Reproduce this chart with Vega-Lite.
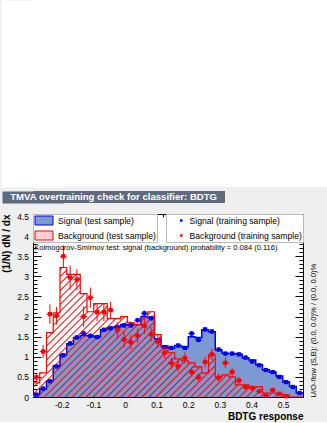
{
"$schema": "https://vega.github.io/schema/vega-lite/v6.json",
"background": "#efefef",
"padding": {"left": 0, "top": 0, "right": 0, "bottom": 0},
"spacing": 8,
"resolve": {"legend": {"fill": "independent", "color": "independent"}},
"config": {
  "font": "Liberation Sans",
  "axis": {"domain": false, "grid": false, "ticks": true, "tickColor": "black", "tickWidth": 1, "labelFont": "Liberation Sans", "labelFontSize": 8.5, "labelColor": "black", "titleFont": "Liberation Sans", "titleFontSize": 10, "titleFontWeight": "bold", "titleColor": "black", "zindex": 1}
},
"vconcat": [
  {"spacing": 4, "vconcat": [
    {"width": 294, "height": 187, "view": {"fill": "white", "stroke": null},
     "data": {"values": [{"v": "a"}]},
     "mark": {"type": "point", "opacity": 0},
     "encoding": {"y": {"field": "v", "type": "nominal", "axis": {"orient": "left", "labels": false, "ticks": false, "title": null, "domain": true, "domainColor": "white", "domainWidth": 64, "zindex": 0}}}},
    {"width": 192, "height": 12, "view": {"fill": "#5d6b7d", "stroke": null},
     "data": {"values": [{"t": "TMVA overtraining check for classifier: BDTG"}]},
     "mark": {"type": "text", "color": "white", "font": "Liberation Sans", "fontWeight": "bold", "fontSize": 9.6, "baseline": "middle"},
     "encoding": {"text": {"field": "t"},
                  "x": {"datum": 0.42, "type": "quantitative", "scale": {"domain": [0, 1], "nice": false}, "axis": null},
                  "y": {"field": "t", "type": "nominal", "axis": {"orient": "left", "labels": false, "ticks": false, "title": null, "domain": true, "domainColor": "#5d6b7d", "domainWidth": 62, "zindex": 0}}}}
  ]},
  {"width": 270, "height": 183, "view": {"fill": "white", "stroke": "black", "strokeWidth": 1},
   "data": {"values": [
{"lo":-0.2910,"hi":-0.2697,"c":-0.2803,"s":0.06,"b":0.35,"st":0.06,"se":0.02,"bt":0.49,"be":0.1},
{"lo":-0.2697,"hi":-0.2483,"c":-0.2590,"s":0.2,"b":0.6,"st":0.21,"se":0.03,"bt":1.13,"be":0.16},
{"lo":-0.2483,"hi":-0.2270,"c":-0.2376,"s":0.4,"b":1.6,"st":0.39,"se":0.04,"bt":2.06,"be":0.24},
{"lo":-0.2270,"hi":-0.2056,"c":-0.2163,"s":0.78,"b":2.09,"st":0.76,"se":0.05,"bt":2.02,"be":0.22},
{"lo":-0.2056,"hi":-0.1843,"c":-0.1949,"s":1.05,"b":3.22,"st":1.04,"se":0.05,"bt":3.5,"be":0.27},
{"lo":-0.1843,"hi":-0.1629,"c":-0.1736,"s":1.32,"b":3.05,"st":1.33,"se":0.06,"bt":2.97,"be":0.3},
{"lo":-0.1629,"hi":-0.1416,"c":-0.1522,"s":1.48,"b":3.05,"st":1.48,"se":0.06,"bt":2.92,"be":0.26},
{"lo":-0.1416,"hi":-0.1202,"c":-0.1309,"s":1.53,"b":2.57,"st":1.58,"se":0.06,"bt":2.0,"be":0.25},
{"lo":-0.1202,"hi":-0.0989,"c":-0.1095,"s":1.52,"b":2.12,"st":1.52,"se":0.06,"bt":2.47,"be":0.25},
{"lo":-0.0989,"hi":-0.0775,"c":-0.0882,"s":1.5,"b":2.32,"st":1.49,"se":0.06,"bt":2.11,"be":0.22},
{"lo":-0.0775,"hi":-0.0562,"c":-0.0668,"s":1.67,"b":2.32,"st":1.67,"se":0.06,"bt":2.11,"be":0.22},
{"lo":-0.0562,"hi":-0.0348,"c":-0.0455,"s":1.72,"b":1.95,"st":1.71,"se":0.06,"bt":2.16,"be":0.2},
{"lo":-0.0348,"hi":-0.0135,"c":-0.0241,"s":1.75,"b":1.95,"st":1.74,"se":0.06,"bt":1.66,"be":0.2},
{"lo":-0.0135,"hi":0.0079,"c":-0.0028,"s":1.8,"b":2.0,"st":1.78,"se":0.06,"bt":1.43,"be":0.2},
{"lo":0.0079,"hi":0.0293,"c":0.0186,"s":1.8,"b":1.85,"st":1.78,"se":0.06,"bt":1.36,"be":0.18},
{"lo":0.0293,"hi":0.0506,"c":0.0399,"s":1.8,"b":1.8,"st":1.91,"se":0.06,"bt":1.52,"be":0.18},
{"lo":0.0506,"hi":0.0720,"c":0.0613,"s":2.0,"b":1.97,"st":2.08,"se":0.07,"bt":1.77,"be":0.2},
{"lo":0.0720,"hi":0.0933,"c":0.0826,"s":1.97,"b":2.12,"st":1.96,"se":0.06,"bt":1.56,"be":0.18},
{"lo":0.0933,"hi":0.1147,"c":0.1040,"s":1.45,"b":1.55,"st":1.39,"se":0.06,"bt":1.39,"be":0.18},
{"lo":0.1147,"hi":0.1360,"c":0.1253,"s":1.27,"b":1.25,"st":1.24,"se":0.05,"bt":1.1,"be":0.15},
{"lo":0.1360,"hi":0.1574,"c":0.1467,"s":1.22,"b":1.1,"st":1.22,"se":0.05,"bt":0.85,"be":0.13},
{"lo":0.1574,"hi":0.1787,"c":0.1680,"s":1.28,"b":0.95,"st":1.28,"se":0.05,"bt":0.76,"be":0.13},
{"lo":0.1787,"hi":0.2001,"c":0.1894,"s":1.25,"b":0.9,"st":1.22,"se":0.05,"bt":0.97,"be":0.14},
{"lo":0.2001,"hi":0.2214,"c":0.2107,"s":1.5,"b":0.85,"st":1.58,"se":0.06,"bt":0.62,"be":0.11},
{"lo":0.2214,"hi":0.2428,"c":0.2321,"s":1.48,"b":0.75,"st":1.42,"se":0.06,"bt":0.49,"be":0.1},
{"lo":0.2428,"hi":0.2641,"c":0.2534,"s":1.67,"b":0.6,"st":1.68,"se":0.06,"bt":0.87,"be":0.13},
{"lo":0.2641,"hi":0.2855,"c":0.2748,"s":1.62,"b":1.05,"st":1.63,"se":0.06,"bt":1.06,"be":0.14},
{"lo":0.2855,"hi":0.3068,"c":0.2961,"s":1.17,"b":0.5,"st":1.18,"se":0.05,"bt":0.48,"be":0.1},
{"lo":0.3068,"hi":0.3282,"c":0.3175,"s":1.09,"b":0.55,"st":1.08,"se":0.05,"bt":0.85,"be":0.13},
{"lo":0.3282,"hi":0.3495,"c":0.3388,"s":1.08,"b":0.5,"st":1.08,"se":0.05,"bt":0.62,"be":0.1},
{"lo":0.3495,"hi":0.3709,"c":0.3602,"s":1.06,"b":0.3,"st":1.06,"se":0.05,"bt":0.41,"be":0.09},
{"lo":0.3709,"hi":0.3922,"c":0.3815,"s":0.97,"b":0.3,"st":0.98,"se":0.05,"bt":0.25,"be":0.07},
{"lo":0.3922,"hi":0.4136,"c":0.4029,"s":0.92,"b":0.25,"st":0.88,"se":0.05,"bt":0.22,"be":0.07},
{"lo":0.4136,"hi":0.4349,"c":0.4242,"s":0.8,"b":0.25,"st":0.79,"se":0.04,"bt":0.14,"be":0.05},
{"lo":0.4349,"hi":0.4563,"c":0.4456,"s":0.68,"b":0.1,"st":0.67,"se":0.04,"bt":0.04,"be":0.03},
{"lo":0.4563,"hi":0.4776,"c":0.4669,"s":0.62,"b":0.1,"st":0.62,"se":0.04,"bt":0.17,"be":0.06},
{"lo":0.4776,"hi":0.4990,"c":0.4883,"s":0.52,"b":0.08,"st":0.5,"se":0.04,"bt":0.08,"be":0.04},
{"lo":0.4990,"hi":0.5203,"c":0.5096,"s":0.37,"b":0.05,"st":0.37,"se":0.03,"bt":0.02,"be":0.02},
{"lo":0.5203,"hi":0.5417,"c":0.5310,"s":0.26,"b":0.0,"st":0.25,"se":0.03,"bt":null,"be":null},
{"lo":0.5417,"hi":0.5630,"c":0.5523,"s":0.1,"b":0.0,"st":0.1,"se":0.02,"bt":null,"be":null}
   ]},
   "resolve": {"axis": {"x": "independent", "y": "independent"}},
   "layer": [
    {"transform": [{"fold": ["lo", "hi"], "as": ["ek", "edge"]}],
     "mark": {"type": "area"},
     "encoding": {
       "x": {"field": "edge", "type": "quantitative", "scale": {"domain": [-0.291, 0.563], "nice": false, "zero": false},
             "axis": {"orient": "bottom", "values": [-0.2,-0.1,0,0.1,0.2,0.3,0.4,0.5], "labelExpr": "toString(datum.value)", "tickSize": -5.5, "labelPadding": 8.5, "labelFlush": false, "domain": true, "domainColor": "black", "title": "BDTG response", "titleAnchor": "end", "titlePadding": 3}},
       "y": {"field": "s", "type": "quantitative", "stack": null, "scale": {"domain": [0, 4.55], "nice": false, "zero": false},
             "axis": {"orient": "left", "values": [0,0.5,1,1.5,2,2.5,3,3.5,4,4.5], "labelExpr": "toString(datum.value)", "tickSize": -8, "labelPadding": 12.5, "domain": true, "domainColor": "black", "title": "(1/N) dN / dx", "titleAnchor": "end", "titlePadding": 5.5}},
       "fill": {"datum": "Signal (test sample)", "scale": {"domain": ["Signal (test sample)", "Background (test sample)"], "range": ["#7d99d1", "#ffd0d0"]},
                "legend": {"orient": "top-left", "offset": 0, "title": null, "padding": 1, "fillColor": "white", "strokeColor": "#bbbbbb", "symbolType": "M-2,-1H2V1H-2Z", "symbolSize": 81, "symbolStrokeWidth": 1, "symbolOffset": 5, "labelOffset": 9, "clipHeight": 11, "labelFont": "Liberation Sans", "labelFontSize": 8.6, "labelColor": "black", "rowPadding": 4,
                           "encode": {"symbols": {"update": {"size": {"value": 81}, "fill": {"signal": "datum.value === 'Signal (test sample)' ? '#7d99d1' : '#ffd0d0'"}, "fillOpacity": {"value": 1}, "opacity": {"value": 1}, "stroke": {"signal": "datum.value === 'Signal (test sample)' ? '#0000ee' : '#ff0000'"}, "strokeWidth": {"value": 1}}}}}}
     }},
    {"transform": [{"fold": ["lo", "hi"], "as": ["ek", "edge"]}],
     "mark": {"type": "line", "stroke": "#0000ee", "strokeWidth": 1.5},
     "encoding": {
       "x": {"field": "edge", "type": "quantitative", "scale": {"domain": [-0.291, 0.563], "nice": false, "zero": false},
             "axis": {"orient": "bottom", "tickCount": 43, "labels": false, "tickSize": -2.75, "title": null}},
       "y": {"field": "s", "type": "quantitative", "scale": {"domain": [0, 4.55], "nice": false, "zero": false},
             "axis": {"orient": "left", "tickCount": 46, "labels": false, "tickSize": -4, "title": null}}
     }},
    {"transform": [{"fold": ["lo", "hi"], "as": ["ek", "edge"]}],
     "mark": {"type": "area", "fill": {"gradient": "linear", "x1": 0, "y1": 0, "x2": 1.2, "y2": 0.576, "stops": [
{"offset":0,"color":"rgba(255,0,0,0)"},{"offset":0.0035,"color":"#ff0000"},{"offset":0.007,"color":"rgba(255,0,0,0)"},
{"offset":0.0175,"color":"rgba(255,0,0,0)"},{"offset":0.021,"color":"#ff0000"},{"offset":0.0245,"color":"rgba(255,0,0,0)"},
{"offset":0.035,"color":"rgba(255,0,0,0)"},{"offset":0.0385,"color":"#ff0000"},{"offset":0.042,"color":"rgba(255,0,0,0)"},
{"offset":0.0525,"color":"rgba(255,0,0,0)"},{"offset":0.056,"color":"#ff0000"},{"offset":0.0595,"color":"rgba(255,0,0,0)"},
{"offset":0.07,"color":"rgba(255,0,0,0)"},{"offset":0.0735,"color":"#ff0000"},{"offset":0.077,"color":"rgba(255,0,0,0)"},
{"offset":0.0875,"color":"rgba(255,0,0,0)"},{"offset":0.091,"color":"#ff0000"},{"offset":0.0945,"color":"rgba(255,0,0,0)"},
{"offset":0.105,"color":"rgba(255,0,0,0)"},{"offset":0.1085,"color":"#ff0000"},{"offset":0.112,"color":"rgba(255,0,0,0)"},
{"offset":0.1225,"color":"rgba(255,0,0,0)"},{"offset":0.126,"color":"#ff0000"},{"offset":0.1295,"color":"rgba(255,0,0,0)"},
{"offset":0.14,"color":"rgba(255,0,0,0)"},{"offset":0.1435,"color":"#ff0000"},{"offset":0.147,"color":"rgba(255,0,0,0)"},
{"offset":0.1575,"color":"rgba(255,0,0,0)"},{"offset":0.161,"color":"#ff0000"},{"offset":0.1645,"color":"rgba(255,0,0,0)"},
{"offset":0.175,"color":"rgba(255,0,0,0)"},{"offset":0.1785,"color":"#ff0000"},{"offset":0.182,"color":"rgba(255,0,0,0)"},
{"offset":0.1925,"color":"rgba(255,0,0,0)"},{"offset":0.196,"color":"#ff0000"},{"offset":0.1995,"color":"rgba(255,0,0,0)"},
{"offset":0.21,"color":"rgba(255,0,0,0)"},{"offset":0.2135,"color":"#ff0000"},{"offset":0.217,"color":"rgba(255,0,0,0)"},
{"offset":0.2275,"color":"rgba(255,0,0,0)"},{"offset":0.231,"color":"#ff0000"},{"offset":0.2345,"color":"rgba(255,0,0,0)"},
{"offset":0.245,"color":"rgba(255,0,0,0)"},{"offset":0.2485,"color":"#ff0000"},{"offset":0.252,"color":"rgba(255,0,0,0)"},
{"offset":0.2625,"color":"rgba(255,0,0,0)"},{"offset":0.266,"color":"#ff0000"},{"offset":0.2695,"color":"rgba(255,0,0,0)"},
{"offset":0.28,"color":"rgba(255,0,0,0)"},{"offset":0.2835,"color":"#ff0000"},{"offset":0.287,"color":"rgba(255,0,0,0)"},
{"offset":0.2975,"color":"rgba(255,0,0,0)"},{"offset":0.301,"color":"#ff0000"},{"offset":0.3045,"color":"rgba(255,0,0,0)"},
{"offset":0.315,"color":"rgba(255,0,0,0)"},{"offset":0.3185,"color":"#ff0000"},{"offset":0.322,"color":"rgba(255,0,0,0)"},
{"offset":0.3325,"color":"rgba(255,0,0,0)"},{"offset":0.336,"color":"#ff0000"},{"offset":0.3395,"color":"rgba(255,0,0,0)"},
{"offset":0.35,"color":"rgba(255,0,0,0)"},{"offset":0.3535,"color":"#ff0000"},{"offset":0.357,"color":"rgba(255,0,0,0)"},
{"offset":0.3675,"color":"rgba(255,0,0,0)"},{"offset":0.371,"color":"#ff0000"},{"offset":0.3745,"color":"rgba(255,0,0,0)"},
{"offset":0.385,"color":"rgba(255,0,0,0)"},{"offset":0.3885,"color":"#ff0000"},{"offset":0.392,"color":"rgba(255,0,0,0)"},
{"offset":0.4025,"color":"rgba(255,0,0,0)"},{"offset":0.406,"color":"#ff0000"},{"offset":0.4095,"color":"rgba(255,0,0,0)"},
{"offset":0.42,"color":"rgba(255,0,0,0)"},{"offset":0.4235,"color":"#ff0000"},{"offset":0.427,"color":"rgba(255,0,0,0)"},
{"offset":0.4375,"color":"rgba(255,0,0,0)"},{"offset":0.441,"color":"#ff0000"},{"offset":0.4445,"color":"rgba(255,0,0,0)"},
{"offset":0.455,"color":"rgba(255,0,0,0)"},{"offset":0.4585,"color":"#ff0000"},{"offset":0.462,"color":"rgba(255,0,0,0)"},
{"offset":0.4725,"color":"rgba(255,0,0,0)"},{"offset":0.476,"color":"#ff0000"},{"offset":0.4795,"color":"rgba(255,0,0,0)"},
{"offset":0.49,"color":"rgba(255,0,0,0)"},{"offset":0.4935,"color":"#ff0000"},{"offset":0.497,"color":"rgba(255,0,0,0)"},
{"offset":0.5075,"color":"rgba(255,0,0,0)"},{"offset":0.511,"color":"#ff0000"},{"offset":0.5145,"color":"rgba(255,0,0,0)"},
{"offset":0.525,"color":"rgba(255,0,0,0)"},{"offset":0.5285,"color":"#ff0000"},{"offset":0.532,"color":"rgba(255,0,0,0)"},
{"offset":0.5425,"color":"rgba(255,0,0,0)"},{"offset":0.546,"color":"#ff0000"},{"offset":0.5495,"color":"rgba(255,0,0,0)"},
{"offset":0.56,"color":"rgba(255,0,0,0)"},{"offset":0.5635,"color":"#ff0000"},{"offset":0.567,"color":"rgba(255,0,0,0)"},
{"offset":0.5775,"color":"rgba(255,0,0,0)"},{"offset":0.581,"color":"#ff0000"},{"offset":0.5845,"color":"rgba(255,0,0,0)"},
{"offset":0.595,"color":"rgba(255,0,0,0)"},{"offset":0.5985,"color":"#ff0000"},{"offset":0.602,"color":"rgba(255,0,0,0)"},
{"offset":0.6125,"color":"rgba(255,0,0,0)"},{"offset":0.616,"color":"#ff0000"},{"offset":0.6195,"color":"rgba(255,0,0,0)"},
{"offset":0.63,"color":"rgba(255,0,0,0)"},{"offset":0.6335,"color":"#ff0000"},{"offset":0.637,"color":"rgba(255,0,0,0)"},
{"offset":0.6475,"color":"rgba(255,0,0,0)"},{"offset":0.651,"color":"#ff0000"},{"offset":0.6545,"color":"rgba(255,0,0,0)"},
{"offset":0.665,"color":"rgba(255,0,0,0)"},{"offset":0.6685,"color":"#ff0000"},{"offset":0.672,"color":"rgba(255,0,0,0)"},
{"offset":0.6825,"color":"rgba(255,0,0,0)"},{"offset":0.686,"color":"#ff0000"},{"offset":0.6895,"color":"rgba(255,0,0,0)"},
{"offset":0.7,"color":"rgba(255,0,0,0)"},{"offset":0.7035,"color":"#ff0000"},{"offset":0.707,"color":"rgba(255,0,0,0)"},
{"offset":0.7175,"color":"rgba(255,0,0,0)"},{"offset":0.721,"color":"#ff0000"},{"offset":0.7245,"color":"rgba(255,0,0,0)"},
{"offset":0.735,"color":"rgba(255,0,0,0)"},{"offset":0.7385,"color":"#ff0000"},{"offset":0.742,"color":"rgba(255,0,0,0)"},
{"offset":0.7525,"color":"rgba(255,0,0,0)"},{"offset":0.756,"color":"#ff0000"},{"offset":0.7595,"color":"rgba(255,0,0,0)"},
{"offset":0.77,"color":"rgba(255,0,0,0)"},{"offset":0.7735,"color":"#ff0000"},{"offset":0.777,"color":"rgba(255,0,0,0)"},
{"offset":0.7875,"color":"rgba(255,0,0,0)"},{"offset":0.791,"color":"#ff0000"},{"offset":0.7945,"color":"rgba(255,0,0,0)"},
{"offset":0.805,"color":"rgba(255,0,0,0)"},{"offset":0.8085,"color":"#ff0000"},{"offset":0.812,"color":"rgba(255,0,0,0)"},
{"offset":0.8225,"color":"rgba(255,0,0,0)"},{"offset":0.826,"color":"#ff0000"},{"offset":0.8295,"color":"rgba(255,0,0,0)"},
{"offset":0.84,"color":"rgba(255,0,0,0)"},{"offset":0.8435,"color":"#ff0000"},{"offset":0.847,"color":"rgba(255,0,0,0)"},
{"offset":0.8575,"color":"rgba(255,0,0,0)"},{"offset":0.861,"color":"#ff0000"},{"offset":0.8645,"color":"rgba(255,0,0,0)"},
{"offset":0.875,"color":"rgba(255,0,0,0)"},{"offset":0.8785,"color":"#ff0000"},{"offset":0.882,"color":"rgba(255,0,0,0)"},
{"offset":0.8925,"color":"rgba(255,0,0,0)"},{"offset":0.896,"color":"#ff0000"},{"offset":0.8995,"color":"rgba(255,0,0,0)"},
{"offset":0.91,"color":"rgba(255,0,0,0)"},{"offset":0.9135,"color":"#ff0000"},{"offset":0.917,"color":"rgba(255,0,0,0)"},
{"offset":0.9275,"color":"rgba(255,0,0,0)"},{"offset":0.931,"color":"#ff0000"},{"offset":0.9345,"color":"rgba(255,0,0,0)"},
{"offset":0.945,"color":"rgba(255,0,0,0)"},{"offset":0.9485,"color":"#ff0000"},{"offset":0.952,"color":"rgba(255,0,0,0)"},
{"offset":0.9625,"color":"rgba(255,0,0,0)"},{"offset":0.966,"color":"#ff0000"},{"offset":0.9695,"color":"rgba(255,0,0,0)"},
{"offset":0.98,"color":"rgba(255,0,0,0)"},{"offset":0.9835,"color":"#ff0000"},{"offset":0.987,"color":"rgba(255,0,0,0)"}
     ]}},
     "encoding": {
       "x": {"field": "edge", "type": "quantitative", "scale": {"domain": [-0.291, 0.563], "nice": false, "zero": false}, "axis": null},
       "y": {"field": "b", "type": "quantitative", "stack": null, "scale": {"domain": [0, 4.55], "nice": false, "zero": false}, "axis": null}
     }},
    {"transform": [{"fold": ["lo", "hi"], "as": ["ek", "edge"]}],
     "mark": {"type": "line", "stroke": "#ff0000", "strokeWidth": 1.2, "fillOpacity": 0},
     "encoding": {
       "x": {"field": "edge", "type": "quantitative", "scale": {"domain": [-0.291, 0.563], "nice": false, "zero": false}, "axis": null},
       "y": {"field": "b", "type": "quantitative", "scale": {"domain": [0, 4.55], "nice": false, "zero": false}, "axis": null},
       "fill": {"datum": "Background (test sample)"}
     }},
    {"mark": {"type": "rule", "color": "#0000ee", "strokeWidth": 1},
     "encoding": {
       "x": {"field": "lo", "type": "quantitative", "scale": {"domain": [-0.291, 0.563], "nice": false, "zero": false}, "axis": null},
       "x2": {"field": "hi"},
       "y": {"field": "st", "type": "quantitative", "scale": {"domain": [0, 4.55], "nice": false, "zero": false}, "axis": null}
     }},
    {"mark": {"type": "errorbar", "color": "#0000ee", "thickness": 1},
     "encoding": {
       "x": {"field": "c", "type": "quantitative", "scale": {"domain": [-0.291, 0.563], "nice": false, "zero": false}, "axis": null},
       "y": {"field": "st", "type": "quantitative", "scale": {"domain": [0, 4.55], "nice": false, "zero": false}, "axis": null},
       "yError": {"field": "se"}
     }},
    {"mark": {"type": "square", "size": 18, "opacity": 1},
     "encoding": {
       "x": {"field": "c", "type": "quantitative", "scale": {"domain": [-0.291, 0.563], "nice": false, "zero": false},
             "axis": {"orient": "top", "values": [-0.2,-0.1,0,0.1,0.2,0.3,0.4,0.5], "labels": false, "tickSize": -5.5, "domain": true, "domainColor": "black", "title": null}},
       "y": {"field": "st", "type": "quantitative", "scale": {"domain": [0, 4.55], "nice": false, "zero": false},
             "axis": {"orient": "right", "values": [0,0.5,1,1.5,2,2.5,3,3.5,4,4.5], "labels": false, "tickSize": -8, "domain": true, "domainColor": "black", "title": "U/O-flow (S,B): (0.0, 0.0)% / (0.0, 0.0)%", "titleAngle": 270, "titleAnchor": "start", "titleAlign": "left", "titleBaseline": "top", "titlePadding": 6, "titleFontSize": 7.6, "titleFontWeight": "normal"}},
       "color": {"datum": "Signal (training sample)", "scale": {"domain": ["Signal (training sample)", "Background (training sample)"], "range": ["#0000ee", "#ff0000"]},
                 "legend": {"orient": "top-right", "offset": 0, "title": null, "padding": 1, "fillColor": "white", "strokeColor": "#bbbbbb", "symbolType": "square", "symbolSize": 6, "symbolOffset": 10, "labelOffset": 4, "clipHeight": 11, "labelFont": "Liberation Sans", "labelFontSize": 8.6, "labelColor": "black", "rowPadding": 4}}
     }},
    {"transform": [{"filter": "isValid(datum.bt)"}],
     "mark": {"type": "rule", "color": "#ff0000", "strokeWidth": 1},
     "encoding": {
       "x": {"field": "lo", "type": "quantitative", "scale": {"domain": [-0.291, 0.563], "nice": false, "zero": false}, "axis": null},
       "x2": {"field": "hi"},
       "y": {"field": "bt", "type": "quantitative", "scale": {"domain": [0, 4.55], "nice": false, "zero": false}, "axis": null}
     }},
    {"transform": [{"filter": "isValid(datum.bt)"}],
     "mark": {"type": "errorbar", "color": "#ff0000", "thickness": 1},
     "encoding": {
       "x": {"field": "c", "type": "quantitative", "scale": {"domain": [-0.291, 0.563], "nice": false, "zero": false}, "axis": null},
       "y": {"field": "bt", "type": "quantitative", "scale": {"domain": [0, 4.55], "nice": false, "zero": false}, "axis": null},
       "yError": {"field": "be"}
     }},
    {"transform": [{"filter": "isValid(datum.bt)"}],
     "mark": {"type": "square", "size": 18, "opacity": 1},
     "encoding": {
       "x": {"field": "c", "type": "quantitative", "scale": {"domain": [-0.291, 0.563], "nice": false, "zero": false},
             "axis": {"orient": "top", "tickCount": 43, "labels": false, "tickSize": -2.75, "title": null}},
       "y": {"field": "bt", "type": "quantitative", "scale": {"domain": [0, 4.55], "nice": false, "zero": false},
             "axis": {"orient": "right", "tickCount": 46, "labels": false, "tickSize": -4, "title": null}},
       "color": {"datum": "Background (training sample)"}
     }},
    {"data": {"values": [{}]},
     "mark": {"type": "text", "align": "left", "baseline": "middle", "font": "Liberation Sans", "fontSize": 7.5, "color": "black"},
     "encoding": {
       "x": {"datum": -0.287, "type": "quantitative", "scale": {"domain": [-0.291, 0.563], "nice": false, "zero": false}, "axis": null},
       "y": {"datum": 3.7, "type": "quantitative", "scale": {"domain": [0, 4.55], "nice": false, "zero": false}, "axis": null},
       "text": {"value": "Kolmogorov-Smirnov test: signal (background) probability = 0.084 (0.116)"}
     }}
   ]
  }
]
}
